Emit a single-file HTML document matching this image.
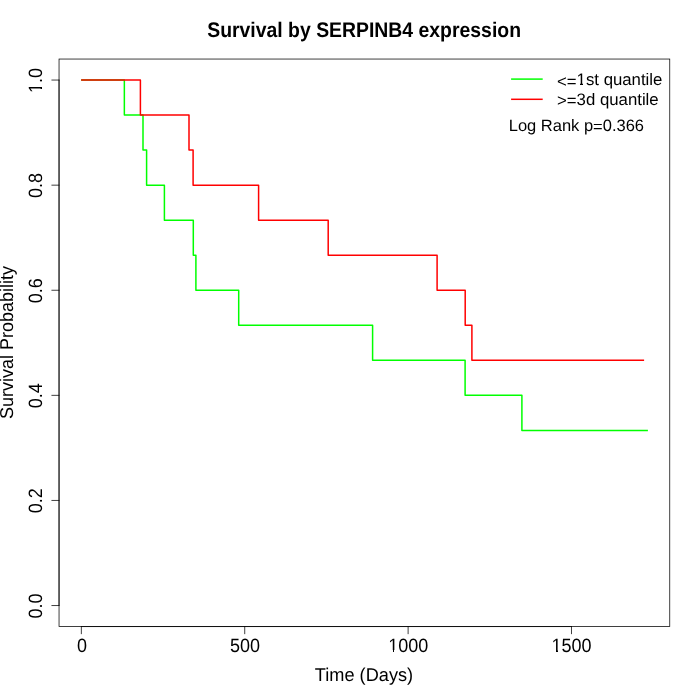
<!DOCTYPE html>
<html>
<head>
<meta charset="utf-8">
<title>Survival by SERPINB4 expression</title>
<style>
html,body{margin:0;padding:0;background:#fff;}
body{width:700px;height:700px;overflow:hidden;}
svg{display:block;}
text{font-family:"Liberation Sans",Arial,Helvetica,sans-serif;fill:#000;text-rendering:geometricPrecision;}
</style>
</head>
<body>
<svg width="700" height="700" viewBox="0 0 700 700">
<rect x="0" y="0" width="700" height="700" fill="#fff"/>
<!-- curves -->
<path d="M81.1,80.06 H124.35 V115.09 H143.00 V150.12 H146.60 V185.16 H164.40 V220.19 H193.30 V255.22 H195.90 V290.25 H238.70 V325.28 H372.60 V360.32 H465.10 V395.35 H521.90 V430.38 H647.90" fill="none" stroke="#00ff00" stroke-width="1.5" stroke-linejoin="round" stroke-linecap="butt"/>
<path d="M81.1,80.06 H140.40 V115.09 H189.00 V150.12 H193.10 V185.16 H258.60 V220.19 H328.20 V255.22 H437.10 V290.25 H465.20 V325.28 H471.90 V360.32 H644.10" fill="none" stroke="#ff0000" stroke-width="1.5" stroke-linejoin="round" stroke-linecap="butt"/>
<!-- box -->
<rect x="59.04" y="59.04" width="610.72" height="567.52" fill="none" stroke="#000" stroke-width="0.75"/>
<!-- x axis -->
<g stroke="#000" stroke-width="0.75" fill="none" stroke-linecap="round">
<path d="M81.35,626.56 H571.49"/>
<path d="M81.35,626.56 V633.76 M244.73,626.56 V633.76 M408.11,626.56 V633.76 M571.49,626.56 V633.76"/>
<path d="M59.04,605.54 V80.06"/>
<path d="M59.04,605.54 H51.84 M59.04,500.44 H51.84 M59.04,395.35 H51.84 M59.04,290.25 H51.84 M59.04,185.16 H51.84 M59.04,80.06 H51.84"/>
</g>
<g font-size="18" text-anchor="middle">
<text transform="translate(82.0,651.6) scale(1,1.07)">0</text>
<text transform="translate(244.9,651.6) scale(1,1.07)">500</text>
<text transform="translate(408.2,651.6) scale(1,1.07)">1000</text>
<text transform="translate(571.5,651.6) scale(1,1.07)">1500</text>
<text transform="translate(41.8,605.94) rotate(-90) scale(1,1.07)">0.0</text>
<text transform="translate(41.8,500.84) rotate(-90) scale(1,1.07)">0.2</text>
<text transform="translate(41.8,395.75) rotate(-90) scale(1,1.07)">0.4</text>
<text transform="translate(41.8,290.65) rotate(-90) scale(1,1.07)">0.6</text>
<text transform="translate(41.8,185.56) rotate(-90) scale(1,1.07)">0.8</text>
<text transform="translate(41.8,80.46) rotate(-90) scale(1,1.07)">1.0</text>
<text transform="translate(364.0,681) scale(1.01,1.03)">Time (Days)</text>
<text transform="translate(12.9,342.5) rotate(-90) scale(1,1.03)">Survival Probability</text>
</g>
<text transform="translate(364.1,36.7) scale(1.011,1.1)" font-size="19.2" font-weight="bold" text-anchor="middle">Survival by SERPINB4 expression</text>
<!-- legend -->
<path d="M511.1,79.1 H542.7" stroke="#00ff00" stroke-width="1.5" fill="none"/>
<path d="M511.1,99.3 H542.7" stroke="#ff0000" stroke-width="1.5" fill="none"/>
<g font-size="16.65">
<text transform="translate(557.0,84.9) scale(1.008,1)"><tspan dy="1.7">&lt;=</tspan><tspan dy="-1.7">1st quantile</tspan></text>
<text transform="translate(557.0,104.6) scale(1.008,1)"><tspan dy="1.8">&gt;=</tspan><tspan dy="-1.8">3d quantile</tspan></text>
</g>
<text transform="translate(508.7,130.9)" font-size="16.5">Log Rank p<tspan dy="1.5">=</tspan><tspan dy="-1.5">0.366</tspan></text>
<!-- remove the foot of Liberation's "1" so it matches the footless Helvetica-style digit -->
<g fill="#fff">
<rect x="389" y="650" width="4" height="2"/><rect x="394" y="650" width="4" height="2"/>
<rect x="552" y="650" width="4" height="2"/><rect x="558" y="650" width="3" height="2"/>
<rect x="40" y="83" width="2" height="4"/><rect x="40" y="89" width="2" height="3"/>
<rect x="577" y="83" width="3" height="2"/><rect x="583" y="83" width="2" height="2"/>
</g>
</svg>
</body>
</html>
